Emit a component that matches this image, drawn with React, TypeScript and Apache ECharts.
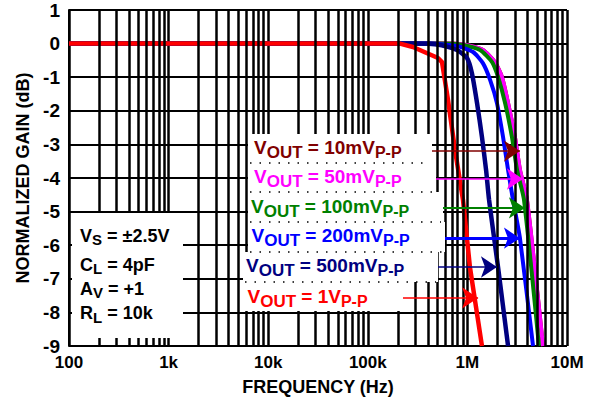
import React, { useEffect, useRef } from "react";
import * as echarts from "echarts";

const FONT = '"Liberation Sans", Arial, Helvetica, sans-serif';

// x axis ticks
const xTickValues = [100, 1e3, 1e4, 1e5, 1e6, 1e7];
const xTickLabels = ["100", "1k", "10k", "100k", "1M", "10M"];
const gridDecades = [100, 1e3, 1e4, 1e5, 1e6];
const gridMultipliers = [2, 3, 4, 5, 6, 7, 8, 9];

// curves (frequency Hz, normalized gain dB)
const freq10mV = [100, 1e3, 1e4, 1e5, 5.96e5, 9.68e5, 1.43e6, 1.89e6, 2.22e6, 2.56e6, 3.0e6, 3.37e6, 3.96e6, 5.74e6];
const gain10mV = [0, 0, 0, 0, 0, -0.04, -0.19, -0.55, -0.99, -1.77, -2.78, -3.76, -4.65, -9];

const freq50mV = [100, 1e3, 1e4, 1e5, 5.96e5, 9.68e5, 1.43e6, 1.89e6, 2.22e6, 2.56e6, 3.0e6, 3.37e6, 3.96e6, 5.74e6];
const gain50mV = [0, 0, 0, 0, 0, -0.04, -0.19, -0.55, -0.99, -1.77, -2.78, -3.76, -4.65, -9];

const freq100mV = [100, 1e3, 1e4, 1e5, 5.31e5, 9.03e5, 1.34e6, 1.77e6, 2.03e6, 2.39e6, 2.8e6, 3.15e6, 3.7e6, 5.23e6];
const gain100mV = [0, 0, 0, 0, 0, -0.04, -0.19, -0.55, -0.99, -1.77, -2.78, -3.76, -4.65, -9];

const freq200mV = [100, 1e3, 1e4, 1e5, 4.21e5, 7.87e5, 1.14e6, 1.43e6, 1.69e6, 1.98e6, 2.28e6, 2.56e6, 2.87e6, 3.37e6, 4.56e6];
const gain200mV = [0, 0, 0, 0, 0, -0.07, -0.25, -0.58, -1.08, -1.77, -2.78, -3.76, -4.65, -5.79, -9];

const freq500mV = [100, 1e3, 1e4, 1e5, 2.84e5, 5.31e5, 7.87e5, 9.91e5, 1.11e6, 1.25e6, 1.4e6, 1.54e6, 1.65e6, 2.03e6, 2.56e6];
const gain500mV = [0, 0, 0, 0, 0, -0.04, -0.19, -0.43, -0.88, -1.77, -2.78, -3.76, -4.65, -6.65, -9];

const freq1V = [100, 1e3, 1e4, 1e5, 2.1e5, 2.84e5, 5.07e5, 5.56e5, 6.39e5, 7.51e5, 9.03e5, 1.06e6, 1.4e6];
const gain1V = [0, 0, 0, 0, 0, -0.1, -0.43, -0.55, -1.68, -3.17, -4.65, -6.65, -9];

// arrow annotations: [gain dB, from Hz, to Hz]
const arrow10mV = [-3.2, 4.41e5, 3.37e6];
const arrow50mV = [-4.03, 4.73e5, 3.61e6];
const arrow100mV = [-4.89, 5.69e5, 3.78e6];
const arrow200mV = [-5.79, 5.96e5, 3.37e6];
const arrow500mV = [-6.65, 5.07e5, 1.98e6];
const arrow1V = [-7.57, 2.25e5, 1.28e6];

const seriesDefs = [
  { name: "10mV", label: "10m", color: "#800000", f: freq10mV, g: gain10mV, width: 4, arrow: arrow10mV, aw: 1.5, tx: 254, ty: 147, box: [248, 134, 432, 163] },
  { name: "50mV", label: "50m", color: "#ff00ff", f: freq50mV, g: gain50mV, width: 4, arrow: arrow50mV, aw: 1.5, tx: 254, ty: 176.5, box: [248, 163, 436, 192] },
  { name: "100mV", label: "100m", color: "#008000", f: freq100mV, g: gain100mV, width: 4, arrow: arrow100mV, aw: 2, tx: 251, ty: 206.5, box: [248, 192, 443, 222] },
  { name: "200mV", label: "200m", color: "#0000ff", f: freq200mV, g: gain200mV, width: 4, arrow: arrow200mV, aw: 3, tx: 251.5, ty: 235.5, box: [248, 222, 445, 252] },
  { name: "500mV", label: "500m", color: "#000080", f: freq500mV, g: gain500mV, width: 4.5, arrow: arrow500mV, aw: 1.5, tx: 246, ty: 265.5, box: [243, 252, 438, 282] },
  { name: "1V", label: "1", color: "#ff0000", f: freq1V, g: gain1V, width: 4.5, arrow: arrow1V, aw: 1.5, tx: 247.5, ty: 296, box: [243, 282, 403, 311] },
];

const paramLines = [
  { main: "V", sub: "S", rest: " = ±2.5V", y: 235.5 },
  { main: "C", sub: "L", rest: " = 4pF", y: 264.5 },
  { main: "A", sub: "V", rest: " = +1", y: 288.5 },
  { main: "R", sub: "L", rest: " = 10k", y: 313 },
];

export default function App() {
  const ref = useRef<HTMLDivElement>(null);
  useEffect(() => {
    if (!ref.current) return;
    const chart = echarts.init(ref.current, null, { renderer: "svg" });

    const minorGrid: any[] = [];
    gridDecades.forEach((d) => gridMultipliers.forEach((m) => minorGrid.push({ xAxis: d * m })));

    const series: any[] = [
      {
        type: "line",
        name: "grid",
        data: [],
        silent: true,
        z: 1,
        markLine: {
          silent: true,
          symbol: ["none", "none"],
          label: { show: false },
          lineStyle: { color: "#000", width: 2.5, type: "solid" },
          data: minorGrid,
          animation: false,
        },
      },
    ];

    seriesDefs.forEach((s) => {
      series.push({
        type: "line",
        name: s.name,
        data: s.f.map((f, i) => [f, s.g[i]]),
        showSymbol: false,
        symbol: "none",
        smooth: s.name === "1V" ? false : 0.2,
        lineStyle: { color: s.color, width: s.width },
        itemStyle: { color: s.color },
        z: 3,
        markLine: {
          silent: true,
          symbol: ["none", "arrow"],
          symbolSize: 16,
          label: { show: false },
          itemStyle: { color: s.color },
          lineStyle: { color: s.color, width: s.aw, type: "solid" },
          data: [[{ coord: [s.arrow[1], s.arrow[0]] }, { coord: [s.arrow[2], s.arrow[0]] }]],
          animation: false,
        },
      });
    });

    const graphics: any[] = [];
    // parameter box
    graphics.push({ type: "rect", shape: { x: 72, y: 213, width: 111, height: 125 }, style: { fill: "#fff" }, z: 10 });
    paramLines.forEach((p) => {
      graphics.push({
        type: "text",
        z: 12,
        style: {
          x: 80,
          y: p.y,
          text: `{m|${p.main}}{s|${p.sub}}{m|${p.rest}}`,
          verticalAlign: "middle",
          align: "left",
          rich: {
            m: { fontSize: 18, fontWeight: "bold", fontFamily: FONT, fill: "#000" },
            s: { fontSize: 15, fontWeight: "bold", fontFamily: FONT, fill: "#000", padding: [8, 0, 0, 0] },
          },
        },
      });
    });
    seriesDefs.forEach((s) => {
      const [x0, y0, x1, y1] = s.box;
      graphics.push({ type: "rect", shape: { x: x0, y: y0, width: x1 - x0, height: y1 - y0 }, style: { fill: "#fff" }, z: 10 });
    });
    seriesDefs.forEach((s) => {
      const [x0, , x1, y1] = s.box;
      if (s.name !== "1V") {
        graphics.push({
          type: "line",
          z: 11,
          shape: { x1: x0 + 2, y1: y1, x2: x1 - 2, y2: y1 },
          style: { stroke: "#000", lineWidth: 1.5, lineDash: [1.5, 8] },
        });
      }
      graphics.push({
        type: "text",
        z: 12,
        style: {
          x: s.tx,
          y: s.ty,
          text: `{m|V}{s|OUT}{m| = ${s.label}V}{p|P-P}`,
          verticalAlign: "middle",
          align: "left",
          rich: {
            m: { fontSize: 19, fontWeight: "bold", fontFamily: FONT, fill: s.color },
            s: { fontSize: 17, fontWeight: "bold", fontFamily: FONT, fill: s.color, padding: [10, 0, 0, 0] },
            p: { fontSize: 16, fontWeight: "bold", fontFamily: FONT, fill: s.color, padding: [10, 0, 0, 0] },
          },
        },
      });
    });

    chart.setOption({
      animation: false,
      backgroundColor: "#fff",
      grid: { left: 69, right: 24, top: 10, bottom: 56, containLabel: false },
      xAxis: {
        type: "log",
        logBase: 10,
        min: 100,
        max: 1e7,
        name: "FREQUENCY (Hz)",
        nameLocation: "middle",
        nameGap: 32,
        nameTextStyle: { fontSize: 18, fontWeight: "bold", fontFamily: FONT, color: "#000" },
        axisLine: { show: true, lineStyle: { color: "#000", width: 2 } },
        axisTick: { show: false },
        axisLabel: {
          fontSize: 17,
          fontWeight: "bold",
          fontFamily: FONT,
          color: "#000",
          margin: 8,
          formatter: (v: number) => {
            const i = xTickValues.findIndex((t) => Math.abs(Math.log10(t) - Math.log10(v)) < 1e-6);
            return i >= 0 ? xTickLabels[i] : "";
          },
        },
        splitLine: { show: true, lineStyle: { color: "#000", width: 2.5 } },
      },
      yAxis: {
        type: "value",
        min: -9,
        max: 1,
        interval: 1,
        name: "NORMALIZED GAIN (dB)",
        nameLocation: "middle",
        nameGap: 35,
        nameTextStyle: { fontSize: 18, fontWeight: "bold", fontFamily: FONT, color: "#000" },
        axisLine: { show: true, lineStyle: { color: "#000", width: 2 } },
        axisTick: { show: false },
        axisLabel: { fontSize: 19, fontWeight: "bold", fontFamily: FONT, color: "#000", margin: 9 },
        splitLine: { show: true, lineStyle: { color: "#000", width: 2 } },
      },
      series,
      graphic: graphics,
    });
    return () => chart.dispose();
  }, []);
  return <div ref={ref} style={{ position: "fixed", left: 0, top: 0, width: 591, height: 402, background: "#fff" }} />;
}
